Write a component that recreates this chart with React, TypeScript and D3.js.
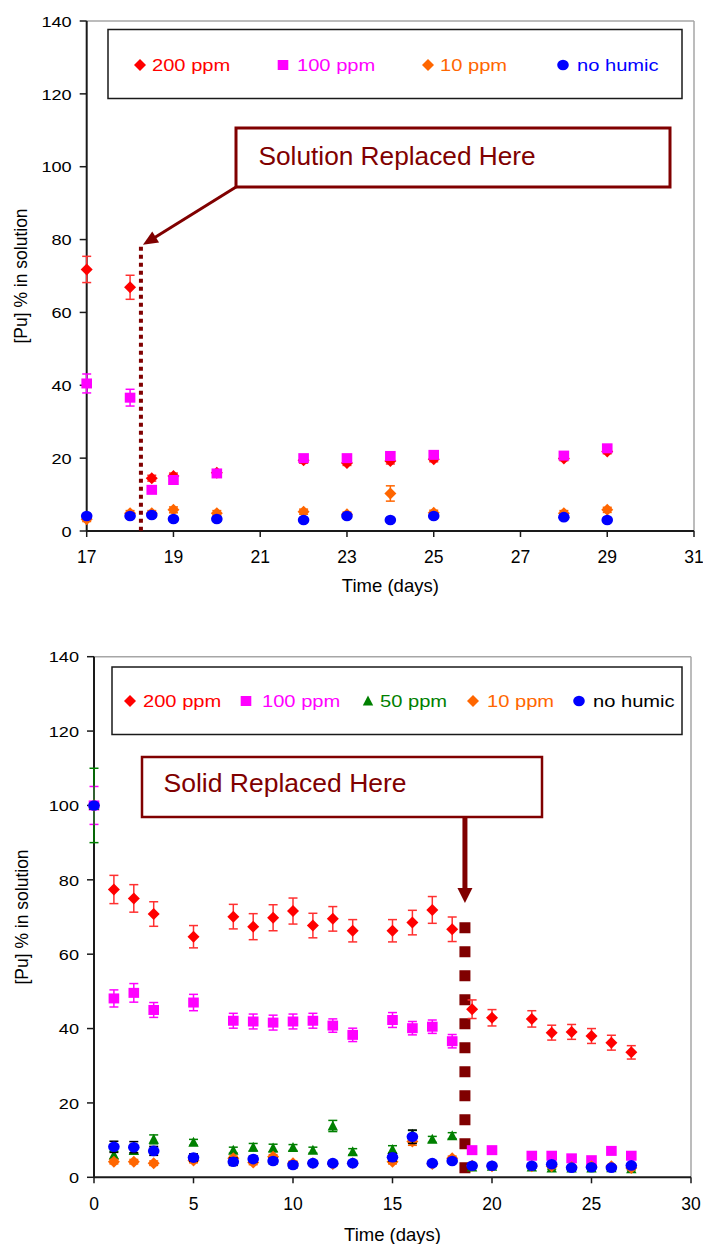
import React, { useEffect } from 'react';
import * as d3 from 'd3';

const FONT = "'Liberation Sans', Arial, Helvetica, sans-serif";

// ---------- Top chart data (Solution replaced) ----------
const topDays = [17, 18, 18.5, 19, 20, 22, 23, 24, 25, 28, 29];
const top200 = [71.8, 66.9, 14.5, 15.1, 16.0, 19.4, 18.7, 19.2, 19.7, 19.9, 21.8];
const top200Err = [3.6, 3.3, 0.8, 0.8, 0.7, 0.8, 0.7, 0.8, 0.7, 0.6, 0.6];
const top100 = [40.5, 36.6, 11.3, 14.0, 15.8, 20.0, 20.0, 20.6, 20.9, 20.7, 22.7];
const top100Err = [2.6, 2.3, 0.8, 0.8, 0.6, 0.7, 0.6, 0.6, 0.6, 0.6, 0.5];
const top10 = [3.2, 4.9, 4.9, 5.8, 4.9, 5.3, 4.6, 10.3, 5.0, 4.9, 5.8];
const top10Err = [0.6, 0.7, 0.7, 0.8, 0.7, 0.7, 0.6, 2.1, 0.7, 0.7, 0.7];
const topNone = [4.1, 4.1, 4.4, 3.3, 3.3, 3.0, 4.1, 3.0, 4.1, 3.8, 3.0];
const topNoneErr = [0.5, 0.5, 0.5, 0.5, 0.5, 0.5, 0.5, 0.5, 0.5, 0.5, 0.5];
const topXTicks = [17, 19, 21, 23, 25, 27, 29, 31];
const topYTicks = [0, 20, 40, 60, 80, 100, 120, 140];
const topReplaceDay = 18.25;
const topReplaceTop = 78;

// ---------- Bottom chart data (Solid replaced) ----------
const botDays = [0, 1, 2, 3, 5, 7, 8, 9, 10, 11, 12, 13, 15, 16, 17, 18, 19, 20, 22, 23, 24, 25, 26, 27];
const bot200 = [100, 77.4, 75.0, 70.8, 64.7, 70.1, 67.4, 69.8, 71.6, 67.7, 69.5, 66.3, 66.3, 68.5, 71.9, 66.7, 45.2, 42.9, 42.6, 38.9, 39.1, 38.0, 36.2, 33.6];
const bot200Err = [0, 3.8, 3.7, 3.3, 3.0, 3.3, 3.5, 3.5, 3.5, 3.3, 3.3, 3.0, 3.0, 3.3, 3.6, 3.3, 2.5, 2.2, 2.2, 2.0, 2.0, 2.0, 2.0, 1.8];
const bot100 = [100, 48.1, 49.6, 45.0, 47.0, 42.1, 41.9, 41.6, 41.9, 42.1, 40.8, 38.3, 42.3, 40.1, 40.5, 36.6, 7.3, 7.3, 5.8, 5.8, 5.1, 4.6, 7.1, 5.8];
const bot100Err = [5.1, 2.3, 2.5, 2.0, 2.2, 2.0, 2.0, 2.0, 2.0, 2.0, 1.8, 1.8, 2.0, 1.8, 1.8, 1.8, 0.5, 0.5, 0.5, 0.5, 0.5, 0.5, 0.5, 0.5];
const bot50 = [100, 6.0, 7.2, 10.2, 9.4, 7.3, 8.1, 7.9, 8.0, 7.3, 13.8, 6.9, 7.5, 11.6, 10.2, 11.2, 2.8, 3.0, 2.8, 2.5, 2.5, 2.5, 2.6, 2.3];
const bot50Err = [10, 1.0, 1.0, 1.2, 0.8, 0.8, 1.0, 1.0, 0.8, 0.8, 1.5, 0.8, 1.0, 1.0, 0.8, 0.8, 0.3, 0.3, 0.3, 0.3, 0.3, 0.3, 0.3, 0.3];
const bot10 = [100, 4.2, 4.2, 3.8, 4.5, 5.1, 4.0, 5.5, 3.8, 3.8, 3.6, 3.8, 4.2, 9.6, 3.6, 5.1, 3.1, 3.0, 3.0, 3.0, 2.8, 3.0, 3.0, 2.5];
const bot10Err = [0.5, 0.6, 0.6, 0.6, 0.6, 0.6, 0.6, 0.6, 0.6, 0.6, 0.6, 0.6, 0.6, 1.0, 0.6, 0.6, 0.4, 0.4, 0.4, 0.4, 0.4, 0.4, 0.4, 0.4];
const botNone = [100, 8.2, 8.1, 7.1, 5.3, 4.2, 4.9, 4.4, 3.3, 3.8, 3.8, 3.8, 5.4, 10.9, 3.8, 4.4, 3.1, 3.1, 3.1, 3.5, 2.6, 2.7, 2.6, 3.2];
const botNoneErr = [0.5, 1.5, 1.5, 1.2, 1.0, 1.0, 0.8, 0.8, 0.8, 0.6, 0.6, 0.6, 1.0, 1.8, 0.6, 0.6, 0.5, 0.5, 0.5, 0.5, 0.5, 0.5, 0.5, 0.5];
const botXTicks = [0, 5, 10, 15, 20, 25, 30];
const botYTicks = [0, 20, 40, 60, 80, 100, 120, 140];
const botReplaceDay = 18.64;
const botReplaceTop = 68.6;

const RED = '#ff0000';
const MAG = '#ff00ff';
const ORA = '#ff6600';
const BLU = '#0000ff';
const GRN = '#008000';
const DRK = '#800000';

type Shape = 'diamond' | 'square' | 'triangle' | 'circle';
type Series = {
  label: string; color: string; errColor: string; textColor: string; shape: Shape;
  days: number[]; values: number[]; errs: number[];
};

const topSeries: Series[] = [
  { label: '200 ppm', color: RED, errColor: '#ff3030', textColor: RED, shape: 'diamond', days: topDays, values: top200, errs: top200Err },
  { label: '100 ppm', color: MAG, errColor: MAG, textColor: MAG, shape: 'square', days: topDays, values: top100, errs: top100Err },
  { label: '10 ppm', color: ORA, errColor: ORA, textColor: ORA, shape: 'diamond', days: topDays, values: top10, errs: top10Err },
  { label: 'no humic', color: BLU, errColor: '#000000', textColor: BLU, shape: 'circle', days: topDays, values: topNone, errs: topNoneErr },
];

const botSeries: Series[] = [
  { label: '200 ppm', color: RED, errColor: '#ff3030', textColor: RED, shape: 'diamond', days: botDays, values: bot200, errs: bot200Err },
  { label: '100 ppm', color: MAG, errColor: MAG, textColor: MAG, shape: 'square', days: botDays, values: bot100, errs: bot100Err },
  { label: '50 ppm', color: GRN, errColor: GRN, textColor: GRN, shape: 'triangle', days: botDays, values: bot50, errs: bot50Err },
  { label: '10 ppm', color: ORA, errColor: ORA, textColor: ORA, shape: 'diamond', days: botDays, values: bot10, errs: bot10Err },
  { label: 'no humic', color: BLU, errColor: '#000000', textColor: '#000000', shape: 'circle', days: botDays, values: botNone, errs: botNoneErr },
];

function Marker({ shape, x, y, color }: { shape: Shape; x: number; y: number; color: string }) {
  const t = `translate(${x},${y})`;
  if (shape === 'diamond') return <path transform={t} d="M0,-6 L6,0 L0,6 L-6,0Z" fill={color} />;
  if (shape === 'square') return <rect x={x - 5.3} y={y - 5} width={10.6} height={10} fill={color} />;
  if (shape === 'triangle') return <path transform={t} d="M0,-5.5 L5.2,4.5 L-5.2,4.5Z" fill={color} />;
  return <ellipse cx={x} cy={y} rx={5.8} ry={5.3} fill={color} />;
}

function T({ x, y, size, sx = 1, anchor = 'start', fill = '#000', rotate = 0, children }: any) {
  return (
    <text
      transform={`translate(${x},${y}) rotate(${rotate}) scale(${sx},1)`}
      fontSize={size}
      textAnchor={anchor}
      fill={fill}
      fontFamily={FONT}
    >
      {children}
    </text>
  );
}

type ChartCfg = {
  series: Series[];
  xDomain: [number, number]; xRange: [number, number];
  yRange: [number, number];
  xTicks: number[]; yTicks: number[];
  xTickBaseline: number; yTitleX: number; yTitleY: number; xTitleY: number;
  legend: { x: number; y: number; w: number; h: number; items: { mx: number; tx: number }[]; cy: number; base: number };
};

function Chart({ cfg, children }: { cfg: ChartCfg; children?: (x: any, y: any) => React.ReactNode }) {
  const x = d3.scaleLinear().domain(cfg.xDomain).range(cfg.xRange);
  const y = d3.scaleLinear().domain([0, 140]).range(cfg.yRange);
  const [x0, x1] = cfg.xRange;
  const [yb, yt] = cfg.yRange;
  const L = cfg.legend;
  return (
    <g>
      {/* frame */}
      <line x1={x0} y1={yt} x2={x1} y2={yt} stroke="#a6a6a6" strokeWidth={1.5} />
      <line x1={x1} y1={yt} x2={x1} y2={yb} stroke="#a6a6a6" strokeWidth={1.5} />
      <line x1={x0} y1={yt} x2={x0} y2={yb} stroke="#1a1a1a" strokeWidth={2} />
      <line x1={x0} y1={yb} x2={x1} y2={yb} stroke="#1a1a1a" strokeWidth={2} />
      {cfg.yTicks.map((t) => (
        <g key={'y' + t}>
          <line x1={x0 - 7} x2={x0} y1={y(t)} y2={y(t)} stroke="#1a1a1a" strokeWidth={1.5} />
          <T x={x0 - 15} y={y(t) + 5.7} size={15.5} sx={1.17} anchor="end">{t}</T>
        </g>
      ))}
      {cfg.xTicks.map((t) => (
        <g key={'x' + t}>
          <line x1={x(t)} x2={x(t)} y1={yb} y2={yb + 6} stroke="#1a1a1a" strokeWidth={1.5} />
          <T x={x(t)} y={cfg.xTickBaseline} size={17.5} anchor="middle">{t}</T>
        </g>
      ))}
      <T x={cfg.yTitleX} y={cfg.yTitleY} size={17.5} anchor="middle" rotate={-90}>[Pu] % in solution</T>
      <T x={(x0 + x1) / 2} y={cfg.xTitleY} size={18.5} anchor="middle">Time (days)</T>

      {/* legend */}
      <rect x={L.x} y={L.y} width={L.w} height={L.h} fill="#fff" stroke="#1a1a1a" strokeWidth={1.5} />
      {cfg.series.map((s, i) => (
        <g key={'lg' + i}>
          <Marker shape={s.shape} x={L.items[i].mx} y={L.cy} color={s.color} />
          <T x={L.items[i].tx} y={L.base} size={16.5} sx={1.22} fill={s.textColor}>{s.label}</T>
        </g>
      ))}

      {children && children(x, y)}

      {/* series */}
      {cfg.series.map((s, si) => (
        <g key={'s' + si}>
          {s.days.map((d, i) => {
            const e = s.errs[i];
            if (!e) return null;
            const cx = x(d);
            return (
              <g key={'e' + i} stroke={s.errColor} strokeWidth={1.5}>
                <line x1={cx} x2={cx} y1={y(s.values[i] - e)} y2={y(s.values[i] + e)} />
                <line x1={cx - 4.5} x2={cx + 4.5} y1={y(s.values[i] + e)} y2={y(s.values[i] + e)} />
                <line x1={cx - 4.5} x2={cx + 4.5} y1={y(s.values[i] - e)} y2={y(s.values[i] - e)} />
              </g>
            );
          })}
          {s.days.map((d, i) => (
            <Marker key={'m' + i} shape={s.shape} x={x(d)} y={y(s.values[i])} color={s.color} />
          ))}
        </g>
      ))}
    </g>
  );
}

const topCfg: ChartCfg = {
  series: topSeries,
  xDomain: [17, 31], xRange: [86.7, 694],
  yRange: [531, 21],
  xTicks: topXTicks, yTicks: topYTicks,
  xTickBaseline: 562.5, yTitleX: 27, yTitleY: 276, xTitleY: 592,
  legend: {
    x: 108, y: 29.5, w: 574, h: 69, cy: 65, base: 71,
    items: [{ mx: 140, tx: 152 }, { mx: 283, tx: 297 }, { mx: 428, tx: 440 }, { mx: 563, tx: 577 }],
  },
};

const botCfg: ChartCfg = {
  series: botSeries,
  xDomain: [0, 30], xRange: [94, 691],
  yRange: [1177.3, 656.7],
  xTicks: botXTicks, yTicks: botYTicks,
  xTickBaseline: 1210, yTitleX: 28, yTitleY: 917, xTitleY: 1241,
  legend: {
    x: 112, y: 667, w: 570, h: 67.5, cy: 701, base: 707,
    items: [{ mx: 130, tx: 143 }, { mx: 246, tx: 262 }, { mx: 368, tx: 380 }, { mx: 473, tx: 487 }, { mx: 579, tx: 593 }],
  },
};

export default function App() {
  useEffect(() => {
    document.body.style.margin = '0';
  }, []);
  return (
    <div style={{ position: 'absolute', left: 0, top: 0 }}>
      <svg width={703} height={1244} style={{ display: 'block' }}>
        <rect width={703} height={1244} fill="#fff" />
        <Chart cfg={topCfg}>
          {(x: any, y: any) => {
            const lx = x(topReplaceDay);
            const tipX = lx + 2;
            const tipY = y(topReplaceTop) - 2;
            const sx0 = 236, sy0 = 187;
            const dx = tipX - sx0, dy = tipY - sy0;
            const len = Math.hypot(dx, dy);
            const ux = dx / len, uy = dy / len;
            const bx = tipX - 15 * ux, by = tipY - 15 * uy;
            const nx = -uy, ny = ux;
            return (
              <g>
                <line x1={lx} x2={lx} y1={y(topReplaceTop)} y2={y(0)} stroke={DRK} strokeWidth={4} strokeDasharray="4 4" />
                <rect x={236} y={128} width={434} height={59} fill="#fff" stroke={DRK} strokeWidth={3} />
                <T x={258.5} y={165} size={25} sx={1.05} fill={DRK}>Solution Replaced Here</T>
                <line x1={sx0} y1={sy0} x2={bx + 2 * ux} y2={by + 2 * uy} stroke={DRK} strokeWidth={3} />
                <path d={`M${tipX},${tipY} L${bx + 6.5 * nx},${by + 6.5 * ny} L${bx - 6.5 * nx},${by - 6.5 * ny}Z`} fill={DRK} />
              </g>
            );
          }}
        </Chart>
        <Chart cfg={botCfg}>
          {(x: any, y: any) => {
            const lx = x(botReplaceDay);
            return (
              <g>
                <line x1={lx} x2={lx} y1={y(botReplaceTop)} y2={y(0)} stroke={DRK} strokeWidth={11} strokeDasharray="11 13" />
                <rect x={142} y={757} width={400} height={60} fill="#fff" stroke={DRK} strokeWidth={2.5} />
                <T x={163.5} y={791.5} size={25.5} sx={1.04} fill={DRK}>Solid Replaced Here</T>
                <line x1={lx} x2={lx} y1={818} y2={889} stroke={DRK} strokeWidth={5} />
                <path d={`M${lx - 7.5},${888} L${lx + 7.5},${888} L${lx},${903}Z`} fill={DRK} />
              </g>
            );
          }}
        </Chart>
      </svg>
    </div>
  );
}
